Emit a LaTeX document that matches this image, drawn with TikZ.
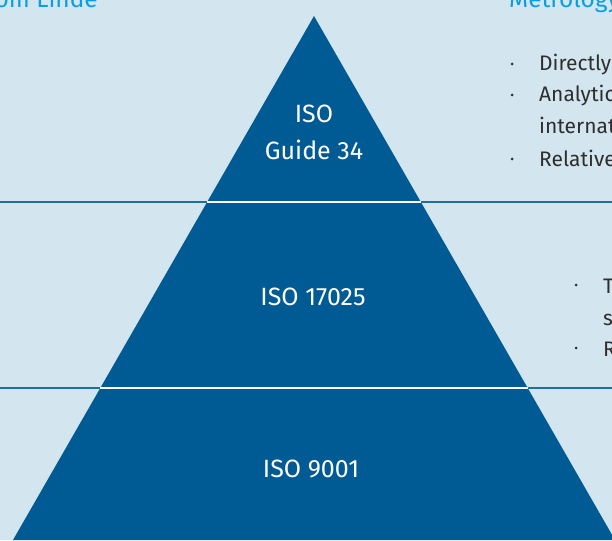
\documentclass[tikz,border=0pt]{standalone}
\usepackage{fontspec}
\setmainfont{Fira Sans}
\usetikzlibrary{calc}
\definecolor{bgblue}{HTML}{D3E5EE}
\definecolor{pyrblue}{HTML}{005A94}
\definecolor{headcyan}{HTML}{0AA0E0}
\definecolor{bodygray}{HTML}{2E2E2E}
\tikzset{
  sepline/.style={draw=pyrblue!85!bgblue, line width=1.8pt},
  gapline/.style={draw=white, line width=1.8pt},
  levellabel/.style={text=white, font=\fontsize{25}{31}\selectfont, anchor=base, inner sep=0pt},
  heading/.style={text=headcyan, font=\fontsize{24.5}{29}\selectfont, anchor=base west, inner sep=0pt},
  bullettext/.style={text=bodygray, font=\fontsize{21}{25}\selectfont, anchor=base west, inner sep=0pt},
  bulletdot/.style={fill=bodygray, circle, inner sep=0pt, minimum size=3pt}
}
\begin{document}
\begin{tikzpicture}[x=1pt,y=-1pt]
\useasboundingbox (0,0) rectangle (612,540);
\clip (0,0) rectangle (612,540);
\fill[bgblue] (0,0) rectangle (612,540);
% separators across the background
\draw[sepline] (0,202) -- (612,202);
\draw[sepline] (0,388) -- (612,388);
% pyramid
\coordinate (apex) at (314,16);
\coordinate (bl) at (13,540);
\coordinate (br) at (615,540);
\fill[pyrblue] (apex) -- (bl) -- (br) -- cycle;
\coordinate (l1) at ($(apex)!0.355!(bl)$);
\coordinate (r1) at ($(apex)!0.355!(br)$);
\coordinate (l2) at ($(apex)!0.710!(bl)$);
\coordinate (r2) at ($(apex)!0.710!(br)$);
\draw[gapline] (l1) -- (r1);
\draw[gapline] (l2) -- (r2);
% level labels
\node[levellabel] (iso) at (314,123) {ISO};
\node[levellabel] (guide) at (314,160) {Guide 34};
\node[levellabel] (iso17025) at (313,305) {ISO 17025};
\node[levellabel] (iso9001) at (311,477) {ISO 9001};
% headings (cut by the picture border)
\node[heading, anchor=base east] (headleft) at (98,7.5) {from Linde};
\node[heading] (headright) at (509,7.5) {Metrology};
% upper bullet list
\node[bulletdot] (d1) at (512,64) {};
\node[bullettext] (t1) at (539,71) {Directly traceable};
\node[bulletdot] (d2) at (512,95) {};
\node[bullettext] (t2) at (539,102) {Analytical methods};
\node[bullettext] (t3) at (539,133.5) {international standards};
\node[bulletdot] (d3) at (512,159) {};
\node[bullettext] (t4) at (539,166) {Relative uncertainty};
% middle bullet list
\node[bulletdot] (d4) at (576,285) {};
\node[bullettext] (t5) at (603,293) {Traceable};
\node[bullettext] (t6) at (603,325) {system};
\node[bulletdot] (d5) at (576,348) {};
\node[bullettext] (t7) at (603,356) {Regular};
\end{tikzpicture}
\end{document}
